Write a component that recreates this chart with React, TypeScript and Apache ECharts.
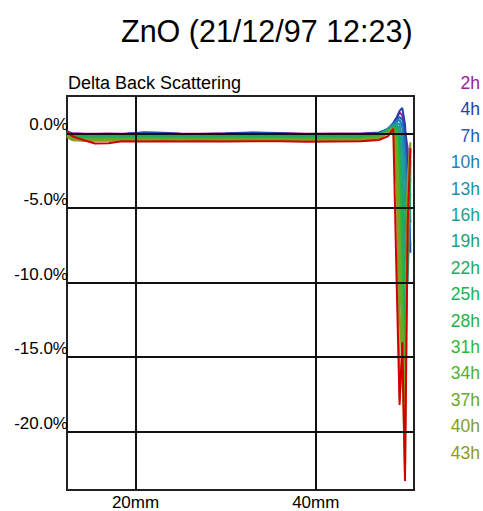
import React, { useEffect, useRef } from "react";
import * as echarts from "echarts";

// Position along the sample (mm)
const X_MM = [12.4, 13.0, 14.2, 15.5, 17.0, 18.5, 21.0, 23.0, 25.0, 27.0, 30.0, 33.0, 36.0, 39.0, 42.0, 45.0, 47.0, 48.0, 48.6, 49.0, 49.3, 49.6, 49.9, 50.2, 50.5];

const SERIES_NAMES = ["2h", "4h", "7h", "10h", "13h", "16h", "19h", "22h", "25h", "28h", "31h", "34h", "37h", "40h", "43h", "46h"];
const LEGEND_NAMES = ["2h", "4h", "7h", "10h", "13h", "16h", "19h", "22h", "25h", "28h", "31h", "34h", "37h", "40h", "43h"];
const SERIES_COLORS = ["#9b209b", "#2040b0", "#2060b8", "#2080b8", "#2090a8", "#20a098", "#20a080", "#20a868", "#20b058", "#28b048", "#30b830", "#50b030", "#68a828", "#80a020", "#8c9a20", "#d00000"];

// Delta back scattering (%)
const S_2H = [0.15, 0.0, -0.02, -0.03, -0.02, -0.03, 0.05, 0.03, -0.02, -0.03, 0.0, 0.05, 0.02, -0.03, -0.02, -0.01, 0.05, 0.25, 0.6, 1.0, 1.4, 1.2, 0.2, -1.0, -6.0];
const S_4H = [0.12, -0.05, -0.06, -0.06, -0.05, -0.06, 0.06, 0.02, -0.05, -0.06, -0.02, 0.04, 0.01, -0.06, -0.05, -0.04, 0.02, 0.3, 0.7, 1.1, 1.5, 1.7, 0.6, -2.5, -8.0];
const S_7H = [0.1, -0.08, -0.1, -0.1, -0.09, -0.1, 0.0, -0.03, -0.09, -0.1, -0.07, -0.02, -0.05, -0.1, -0.09, -0.08, -0.02, 0.3, 0.6, 0.9, 1.1, 0.9, -0.5, -4.0, -7.5];
const S_10H = [0.08, -0.1, -0.13, -0.13, -0.12, -0.13, -0.07, -0.09, -0.12, -0.13, -0.1, -0.08, -0.1, -0.13, -0.12, -0.11, -0.05, 0.3, 0.6, 0.8, 0.9, 0.4, -1.5, -5.5, -6.5];
const S_13H = [0.05, -0.13, -0.17, -0.17, -0.16, -0.17, -0.13, -0.14, -0.16, -0.17, -0.15, -0.14, -0.15, -0.17, -0.16, -0.15, -0.08, 0.28, 0.55, 0.7, 0.6, -0.5, -3.0, -7.0, -5.0];
const S_16H = [0.02, -0.16, -0.2, -0.2, -0.19, -0.2, -0.18, -0.18, -0.19, -0.2, -0.19, -0.18, -0.19, -0.2, -0.2, -0.18, -0.1, 0.25, 0.5, 0.6, 0.2, -1.5, -5.0, -9.0, -4.0];
const S_19H = [0.0, -0.2, -0.24, -0.24, -0.23, -0.24, -0.22, -0.22, -0.23, -0.24, -0.23, -0.22, -0.23, -0.24, -0.24, -0.22, -0.13, 0.22, 0.45, 0.5, -0.3, -3.0, -7.5, -10.0, -3.0];
const S_22H = [-0.02, -0.23, -0.27, -0.27, -0.26, -0.27, -0.26, -0.26, -0.26, -0.27, -0.26, -0.26, -0.26, -0.27, -0.27, -0.25, -0.15, 0.2, 0.42, 0.4, -1.0, -5.0, -10.0, -9.0, -2.5];
const S_25H = [-0.05, -0.26, -0.3, -0.3, -0.29, -0.3, -0.29, -0.29, -0.29, -0.3, -0.29, -0.29, -0.29, -0.3, -0.3, -0.28, -0.18, 0.18, 0.4, 0.3, -2.0, -7.0, -12.5, -8.0, -2.0];
const S_28H = [-0.08, -0.29, -0.33, -0.33, -0.32, -0.33, -0.32, -0.32, -0.32, -0.33, -0.32, -0.32, -0.32, -0.33, -0.33, -0.31, -0.2, 0.15, 0.38, 0.2, -3.0, -9.0, -14.5, -7.0, -1.8];
const S_31H = [-0.1, -0.32, -0.36, -0.36, -0.35, -0.36, -0.35, -0.35, -0.35, -0.36, -0.35, -0.35, -0.35, -0.36, -0.36, -0.34, -0.23, 0.12, 0.35, 0.0, -4.5, -11.0, -16.0, -6.0, -1.5];
const S_34H = [-0.12, -0.35, -0.39, -0.39, -0.38, -0.39, -0.38, -0.38, -0.38, -0.39, -0.38, -0.38, -0.38, -0.39, -0.39, -0.37, -0.26, 0.1, 0.33, -0.3, -6.0, -12.5, -16.8, -5.0, -1.2];
const S_37H = [-0.15, -0.38, -0.42, -0.42, -0.41, -0.42, -0.41, -0.41, -0.41, -0.42, -0.41, -0.41, -0.41, -0.42, -0.42, -0.4, -0.29, 0.08, 0.3, -0.8, -8.0, -14.0, -17.5, -4.0, -1.0];
const S_40H = [-0.2, -0.42, -0.46, -0.46, -0.45, -0.46, -0.45, -0.45, -0.45, -0.46, -0.45, -0.45, -0.45, -0.46, -0.46, -0.44, -0.32, 0.05, 0.3, -2.0, -12.0, -15.5, -18.0, -3.5, -0.8];
const S_43H = [-0.25, -0.46, -0.5, -0.5, -0.49, -0.5, -0.49, -0.49, -0.49, -0.5, -0.49, -0.49, -0.49, -0.5, -0.5, -0.48, -0.35, 0.02, 0.3, -4.0, -17.8, -15.0, -22.8, -3.0, -0.6];
const S_46H = [0.1, -0.2, -0.45, -0.68, -0.66, -0.53, -0.55, -0.54, -0.55, -0.54, -0.55, -0.54, -0.54, -0.56, -0.55, -0.54, -0.45, -0.2, 0.3, -10.6, -18.2, -14.0, -23.3, -6.0, -1.0];
const SERIES_VALUES = [S_2H, S_4H, S_7H, S_10H, S_13H, S_16H, S_19H, S_22H, S_25H, S_28H, S_31H, S_34H, S_37H, S_40H, S_43H, S_46H];

const X_TICKS = [20, 40];
const Y_TICKS = [0, -5, -10, -15, -20];

const FONT = '"Liberation Sans", Arial, sans-serif';

export default function App() {
  const ref = useRef<HTMLDivElement>(null);
  useEffect(() => {
    if (!ref.current) return;
    const chart = echarts.init(ref.current, undefined, { renderer: "svg" });
    const dataSeries = SERIES_NAMES.map((name, s) => ({
      name,
      type: "line",
      z: 3,
      showSymbol: false,
      symbol: "none",
      lineStyle: { color: SERIES_COLORS[s], width: 2 },
      itemStyle: { color: SERIES_COLORS[s] },
      data: X_MM.map((x, i) => [x, SERIES_VALUES[s][i]]),
    }));
    const gridSeries = {
      name: "grid",
      type: "line",
      z: 1,
      data: [],
      markLine: {
        silent: true,
        symbol: "none",
        label: { show: false },
        lineStyle: { color: "#111", width: 2, type: "solid" },
        data: [
          ...X_TICKS.map((v) => ({ xAxis: v })),
          ...Y_TICKS.map((v) => ({ yAxis: v })),
        ],
      },
    };
    chart.setOption({
      animation: false,
      backgroundColor: "#fff",
      title: {
        text: "ZnO (21/12/97 12:23)",
        left: 116,
        top: 10,
        textStyle: { fontFamily: FONT, fontSize: 30.5, fontWeight: "normal", color: "#000" },
      },
      grid: {
        left: 67,
        right: 69,
        top: 96,
        bottom: 20,
        show: true,
        borderColor: "#222",
        borderWidth: 2,
        backgroundColor: "#fff",
      },
      xAxis: {
        type: "value",
        min: 12.4,
        max: 50.9,
        axisLine: { show: false },
        axisTick: { show: false },
        splitLine: { show: false },
        axisLabel: {
          customValues: X_TICKS,
          formatter: (v: number) => `${v}mm`,
          margin: 4,
          fontFamily: FONT,
          fontSize: 17,
          color: "#000",
        },
      },
      yAxis: {
        type: "value",
        min: -23.9,
        max: 2.5,
        axisLine: { show: false },
        axisTick: { show: false },
        splitLine: { show: false },
        axisLabel: {
          customValues: Y_TICKS,
          formatter: (v: number) => `${v.toFixed(1)}%`,
          margin: -1,
          verticalAlign: "bottom",
          fontFamily: FONT,
          fontSize: 17,
          color: "#000",
        },
      },
      graphic: [
        {
          type: "text",
          left: 68,
          top: 74,
          style: { text: "Delta Back Scattering", fill: "#000", font: `18px ${FONT}` },
        },
        ...LEGEND_NAMES.map((n, i) => ({
          type: "text",
          right: 3,
          top: 74 + i * 26.4,
          style: { text: n, fill: SERIES_COLORS[i], font: `17.5px ${FONT}` },
        })),
      ],
      series: [gridSeries, ...dataSeries],
    });
    return () => chart.dispose();
  }, []);
  return (
    <div
      ref={ref}
      style={{ position: "fixed", left: 0, top: 0, width: 483, height: 511 }}
    />
  );
}
